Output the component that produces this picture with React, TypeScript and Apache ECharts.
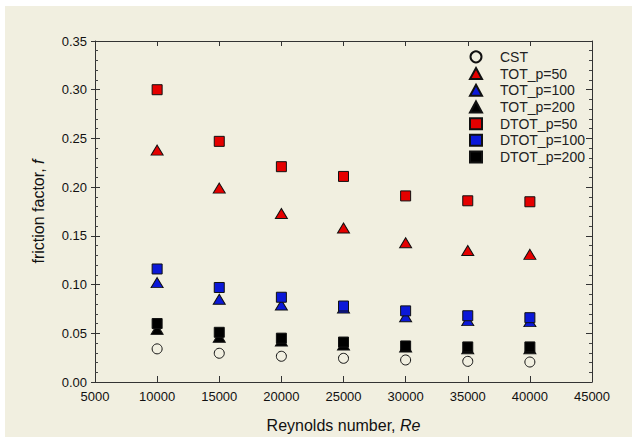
import React, { useEffect, useRef } from "react";
import * as echarts from "echarts";

const reynolds = [10000, 15000, 20000, 25000, 30000, 35000, 40000];
const cst = [0.034, 0.0295, 0.0264, 0.0243, 0.0226, 0.0212, 0.0205];
const totP50 = [0.238, 0.199, 0.173, 0.158, 0.143, 0.135, 0.131];
const totP100 = [0.102, 0.085, 0.079, 0.076, 0.067, 0.063, 0.062];
const totP200 = [0.054, 0.046, 0.042, 0.038, 0.036, 0.034, 0.034];
const dtotP50 = [0.3, 0.247, 0.221, 0.211, 0.191, 0.186, 0.185];
const dtotP100 = [0.116, 0.097, 0.087, 0.078, 0.073, 0.068, 0.066];
const dtotP200 = [0.06, 0.051, 0.045, 0.041, 0.037, 0.036, 0.036];

const RED = "#e50000";
const BLUE = "#0b18d8";
const BLACK = "#000000";

const FONT = "'Liberation Sans', Arial, sans-serif";

function pairs(ys: number[]) {
  return reynolds.map((x, i) => [x, ys[i]]);
}

export default function App() {
  const ref = useRef<HTMLDivElement>(null);
  useEffect(() => {
    if (!ref.current) return;
    const chart = echarts.init(ref.current, undefined, { renderer: "svg" });
    const mk = (name: string, ys: number[], symbol: string, color: string, size: any, border = "#111") => ({
      name,
      type: "scatter",
      data: pairs(ys),
      symbol,
      symbolSize: size,
      itemStyle: { color, borderColor: border, borderWidth: 1, opacity: 1 },
      emphasis: { disabled: true },
    });
    chart.setOption({
      animation: false,
      backgroundColor: "transparent",
      textStyle: { fontFamily: FONT },
      grid: { left: 95, right: 40, top: 41, bottom: 59, containLabel: false },
      legend: {
        orient: "vertical",
        left: 469,
        top: 48.5,
        itemWidth: 12,
        itemHeight: 11,
        itemGap: 0,
        padding: 0,
        textStyle: { fontSize: 14, lineHeight: 16.7, color: "#222", fontFamily: FONT, padding: [0, 0, 0, 13] },
        data: ["CST", "TOT_p=50", "TOT_p=100", "TOT_p=200", "DTOT_p=50", "DTOT_p=100", "DTOT_p=200"],
      },
      xAxis: [
        {
          type: "value",
          position: "bottom",
          min: 5000,
          max: 45000,
          interval: 5000,
          axisLine: { show: true, onZero: false, lineStyle: { color: "#333", width: 1 } },
          axisTick: { show: true, inside: true, length: 6, lineStyle: { color: "#333" } },
          axisLabel: { margin: 8, fontSize: 13, color: "#111", fontFamily: FONT, formatter: (v: number) => String(v) },
          splitLine: { show: false },
          name: "{a|Reynolds number, }{b|Re}",
          nameLocation: "middle",
          nameGap: 35,
          nameTextStyle: {
            rich: {
              a: { fontSize: 16, color: "#111", fontFamily: FONT },
              b: { fontSize: 16, color: "#111", fontStyle: "italic", fontFamily: FONT },
            },
          },
        },
        {
          type: "value",
          position: "top",
          min: 5000,
          max: 45000,
          interval: 5000,
          axisLine: { show: true, onZero: false, lineStyle: { color: "#333", width: 1 } },
          axisTick: { show: true, inside: true, length: 5, lineStyle: { color: "#333" } },
          axisLabel: { show: false },
          splitLine: { show: false },
        },
      ],
      yAxis: [
        {
          type: "value",
          position: "left",
          min: 0,
          max: 0.35,
          interval: 0.05,
          axisLine: { show: true, onZero: false, lineStyle: { color: "#333", width: 1 } },
          axisTick: { show: true, inside: false, length: 4, lineStyle: { color: "#333" } },
          axisLabel: {
            margin: 8,
            fontSize: 13,
            color: "#111",
            fontFamily: FONT,
            formatter: (v: number) => v.toFixed(2),
          },
          splitLine: { show: false },
          name: "{a|friction factor, }{b|f}",
          nameLocation: "middle",
          nameRotate: 90,
          nameGap: 49,
          nameTextStyle: {
            rich: {
              a: { fontSize: 16, color: "#111", fontFamily: FONT },
              b: { fontSize: 16, color: "#111", fontStyle: "italic", fontFamily: FONT },
            },
          },
        },
        {
          type: "value",
          position: "left",
          offset: 0,
          min: 0,
          max: 0.35,
          interval: 0.05,
          axisLine: { show: false },
          axisTick: { show: true, inside: true, length: 5, lineStyle: { color: "#333" } },
          minorTick: { show: true, splitNumber: 5, length: 3, lineStyle: { color: "#444" } },
          axisLabel: { show: false },
          splitLine: { show: false },
        },
        {
          type: "value",
          position: "right",
          min: 0,
          max: 0.35,
          interval: 0.05,
          axisLine: { show: true, onZero: false, lineStyle: { color: "#333", width: 1 } },
          axisTick: { show: true, inside: true, length: 6, lineStyle: { color: "#333" } },
          minorTick: { show: true, splitNumber: 5, length: 3, lineStyle: { color: "#444" } },
          axisLabel: { show: false },
          splitLine: { show: false },
        },
      ],
      series: [
        mk("CST", cst, "circle", "rgba(0,0,0,0)", 10, "#111"),
        mk("TOT_p=50", totP50, "triangle", RED, [12, 10]),
        mk("TOT_p=100", totP100, "triangle", BLUE, [12, 10]),
        mk("TOT_p=200", totP200, "triangle", BLACK, [12, 10]),
        mk("DTOT_p=50", dtotP50, "rect", RED, 10),
        mk("DTOT_p=100", dtotP100, "rect", BLUE, 10),
        mk("DTOT_p=200", dtotP200, "rect", BLACK, 10),
      ],
    });
    return () => chart.dispose();
  }, []);
  return (
    <div style={{ position: "absolute", left: 0, top: 0, width: 632, height: 441, background: "#ffffff", overflow: "hidden" }}>
      <div style={{ position: "absolute", left: 5, top: 6, width: 627, height: 431, background: "#f1efe0" }} />
      <div ref={ref} style={{ position: "absolute", left: 0, top: 0, width: 632, height: 441 }} />
    </div>
  );
}
